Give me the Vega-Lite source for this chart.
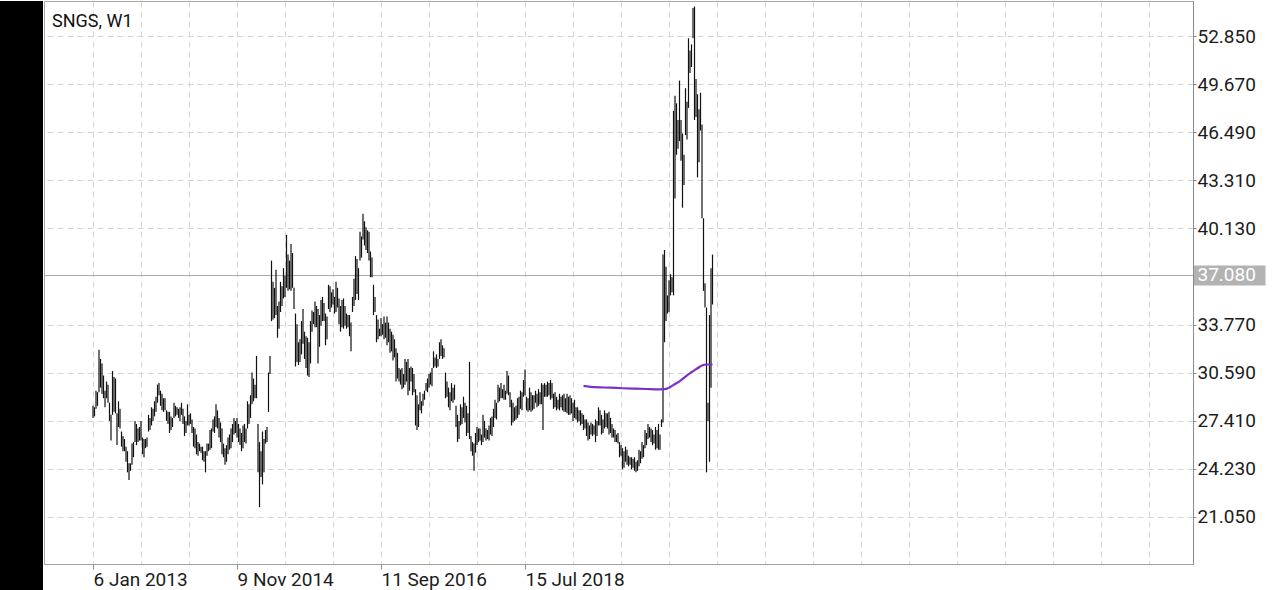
{
"$schema": "https://vega.github.io/schema/vega-lite/v6.json",
"padding": 0,
"background": "white",
"spacing": 0,
"config": {"font": "Roboto", "view": {"stroke": null}},
"datasets": {
"bars": [
{"i":0,"high":28.4,"low":27.6},{"i":1,"high":28.3,"low":27.7},{"i":2,"high":29.4,"low":28.2},{"i":3,"high":29.3,"low":28.4},{"i":4,"high":32.1,"low":29.3},{"i":5,"high":31.5,"low":29.6},{"i":6,"high":31.2,"low":29.2},{"i":7,"high":30.4,"low":28.9},{"i":8,"high":29.4,"low":28.3},{"i":9,"high":30.0,"low":28.9},
{"i":10,"high":29.8,"low":28.6},{"i":11,"high":28.6,"low":27.4},{"i":12,"high":27.8,"low":26.1},{"i":13,"high":30.7,"low":27.8},{"i":14,"high":30.3,"low":28.0},{"i":15,"high":30.2,"low":27.9},{"i":16,"high":27.9,"low":25.8},{"i":17,"high":28.7,"low":27.0},{"i":18,"high":28.2,"low":26.9},{"i":19,"high":26.7,"low":25.7},
{"i":20,"high":26.4,"low":25.4},{"i":21,"high":26.2,"low":25.4},{"i":22,"high":25.7,"low":24.7},{"i":23,"high":25.4,"low":24.0},{"i":24,"high":24.6,"low":23.5},{"i":25,"high":24.6,"low":24.1},{"i":26,"high":25.9,"low":24.5},{"i":27,"high":26.0,"low":25.0},{"i":28,"high":27.4,"low":26.0},{"i":29,"high":27.2,"low":25.8},
{"i":30,"high":26.9,"low":26.0},{"i":31,"high":27.0,"low":26.1},{"i":32,"high":27.4,"low":26.1},{"i":33,"high":26.3,"low":25.2},{"i":34,"high":26.2,"low":25.0},{"i":35,"high":26.2,"low":25.6},{"i":36,"high":26.3,"low":25.7},{"i":37,"high":27.8,"low":26.7},{"i":38,"high":27.6,"low":26.8},{"i":39,"high":28.3,"low":27.1},
{"i":40,"high":28.2,"low":27.4},{"i":41,"high":28.7,"low":27.7},{"i":42,"high":29.0,"low":28.0},{"i":43,"high":29.8,"low":28.6},{"i":44,"high":29.9,"low":29.1},{"i":45,"high":29.4,"low":28.4},{"i":46,"high":29.2,"low":28.1},{"i":47,"high":28.9,"low":28.0},{"i":48,"high":28.9,"low":28.1},{"i":49,"high":28.1,"low":27.4},
{"i":50,"high":28.0,"low":27.2},{"i":51,"high":28.0,"low":26.6},{"i":52,"high":27.7,"low":26.8},{"i":53,"high":27.6,"low":27.0},{"i":54,"high":28.6,"low":27.6},{"i":55,"high":28.4,"low":27.7},{"i":56,"high":28.3,"low":27.8},{"i":57,"high":28.2,"low":27.6},{"i":58,"high":28.3,"low":27.4},{"i":59,"high":28.6,"low":27.8},
{"i":60,"high":28.2,"low":27.2},{"i":61,"high":27.7,"low":26.4},{"i":62,"high":27.4,"low":26.6},{"i":63,"high":28.5,"low":27.1},{"i":64,"high":27.8,"low":27.1},{"i":65,"high":27.9,"low":27.2},{"i":66,"high":27.5,"low":26.6},{"i":67,"high":27.0,"low":25.7},{"i":68,"high":26.9,"low":25.6},{"i":69,"high":26.5,"low":25.2},
{"i":70,"high":26.0,"low":25.1},{"i":71,"high":25.9,"low":25.4},{"i":72,"high":25.7,"low":25.3},{"i":73,"high":25.7,"low":24.8},{"i":74,"high":25.4,"low":24.7},{"i":75,"high":25.4,"low":24.0},{"i":76,"high":25.9,"low":25.1},{"i":77,"high":25.9,"low":25.4},{"i":78,"high":26.8,"low":25.5},{"i":79,"high":26.9,"low":25.6},
{"i":80,"high":27.5,"low":26.7},{"i":81,"high":27.7,"low":26.6},{"i":82,"high":28.5,"low":27.0},{"i":83,"high":28.1,"low":26.9},{"i":84,"high":27.6,"low":26.3},{"i":85,"high":27.3,"low":26.0},{"i":86,"high":26.9,"low":25.2},{"i":87,"high":25.9,"low":25.0},{"i":88,"high":25.6,"low":24.5},{"i":89,"high":25.8,"low":24.7},
{"i":90,"high":26.3,"low":25.2},{"i":91,"high":26.5,"low":25.5},{"i":92,"high":26.9,"low":25.6},{"i":93,"high":27.2,"low":26.0},{"i":94,"high":27.6,"low":26.5},{"i":95,"high":27.4,"low":26.6},{"i":96,"high":27.6,"low":26.3},{"i":97,"high":27.2,"low":26.0},{"i":98,"high":26.9,"low":25.8},{"i":99,"high":26.6,"low":25.4},
{"i":100,"high":27.1,"low":25.6},{"i":101,"high":27.2,"low":26.0},{"i":102,"high":26.9,"low":25.9},{"i":103,"high":28.7,"low":26.9},{"i":104,"high":28.5,"low":27.2},{"i":105,"high":29.1,"low":27.6},{"i":106,"high":30.6,"low":28.5},{"i":107,"high":30.2,"low":28.7},{"i":108,"high":29.8,"low":28.9},{"i":109,"high":31.7,"low":28.9},
{"i":110,"high":27.2,"low":24.0},{"i":111,"high":26.0,"low":21.7},{"i":112,"high":25.4,"low":23.7},{"i":113,"high":26.7,"low":23.2},{"i":114,"high":26.2,"low":24.0},{"i":115,"high":26.8,"low":25.9},{"i":116,"high":27.0,"low":26.0},{"i":117,"high":30.6,"low":28.0},{"i":118,"high":31.7,"low":30.5},{"i":119,"high":38.0,"low":34.0},
{"i":120,"high":36.6,"low":34.1},{"i":121,"high":36.2,"low":34.2},{"i":122,"high":37.4,"low":34.4},{"i":123,"high":35.0,"low":32.9},{"i":124,"high":35.3,"low":33.5},{"i":125,"high":36.6,"low":34.6},{"i":126,"high":36.3,"low":35.0},{"i":127,"high":37.5,"low":35.5},{"i":128,"high":37.0,"low":35.6},{"i":129,"high":39.7,"low":36.2},
{"i":130,"high":38.4,"low":36.0},{"i":131,"high":38.0,"low":36.1},{"i":132,"high":39.1,"low":36.0},{"i":133,"high":38.5,"low":36.2},{"i":134,"high":36.2,"low":34.8},{"i":135,"high":34.5,"low":31.0},{"i":136,"high":33.8,"low":31.3},{"i":137,"high":32.6,"low":31.1},{"i":138,"high":32.8,"low":31.3},{"i":139,"high":34.0,"low":31.8},
{"i":140,"high":34.8,"low":32.5},{"i":141,"high":33.3,"low":31.5},{"i":142,"high":33.0,"low":30.9},{"i":143,"high":32.9,"low":30.4},{"i":144,"high":32.6,"low":30.3},{"i":145,"high":34.0,"low":31.2},{"i":146,"high":34.7,"low":33.3},{"i":147,"high":34.6,"low":33.8},{"i":148,"high":35.3,"low":33.6},{"i":149,"high":35.0,"low":33.6},
{"i":150,"high":34.8,"low":31.2},{"i":151,"high":34.4,"low":32.3},{"i":152,"high":35.4,"low":33.7},{"i":153,"high":35.6,"low":34.0},{"i":154,"high":35.2,"low":34.0},{"i":155,"high":34.5,"low":32.4},{"i":156,"high":34.3,"low":32.8},{"i":157,"high":36.4,"low":34.8},{"i":158,"high":36.3,"low":34.6},{"i":159,"high":35.9,"low":34.9},
{"i":160,"high":36.1,"low":35.1},{"i":161,"high":35.6,"low":34.5},{"i":162,"high":36.6,"low":34.6},{"i":163,"high":36.2,"low":34.9},{"i":164,"high":35.5,"low":33.8},{"i":165,"high":35.0,"low":33.3},{"i":166,"high":35.4,"low":33.6},{"i":167,"high":35.5,"low":33.5},{"i":168,"high":35.0,"low":33.7},{"i":169,"high":34.5,"low":33.5},
{"i":170,"high":34.4,"low":33.6},{"i":171,"high":34.4,"low":33.0},{"i":172,"high":33.9,"low":32.0},{"i":173,"high":35.6,"low":34.6},{"i":174,"high":36.8,"low":35.0},{"i":175,"high":38.3,"low":35.4},{"i":176,"high":38.1,"low":35.8},{"i":177,"high":37.5,"low":35.4},{"i":178,"high":39.9,"low":38.0},{"i":179,"high":39.6,"low":38.2},
{"i":180,"high":41.1,"low":39.4},{"i":181,"high":40.6,"low":39.0},{"i":182,"high":40.2,"low":38.7},{"i":183,"high":40.0,"low":38.5},{"i":184,"high":39.9,"low":38.0},{"i":185,"high":38.6,"low":36.9},{"i":186,"high":38.2,"low":36.9},{"i":187,"high":36.4,"low":34.4},{"i":188,"high":35.6,"low":34.6},{"i":189,"high":34.4,"low":32.6},
{"i":190,"high":34.1,"low":32.8},{"i":191,"high":33.5,"low":33.0},{"i":192,"high":34.2,"low":33.0},{"i":193,"high":33.8,"low":33.1},{"i":194,"high":34.3,"low":32.8},{"i":195,"high":33.9,"low":32.9},{"i":196,"high":34.3,"low":32.4},{"i":197,"high":33.9,"low":32.6},{"i":198,"high":33.5,"low":31.9},{"i":199,"high":33.3,"low":32.0},
{"i":200,"high":33.1,"low":31.4},{"i":201,"high":32.8,"low":31.6},{"i":202,"high":32.2,"low":30.0},{"i":203,"high":31.9,"low":30.2},{"i":204,"high":30.9,"low":30.0},{"i":205,"high":30.8,"low":29.8},{"i":206,"high":30.9,"low":29.5},{"i":207,"high":30.5,"low":29.6},{"i":208,"high":31.5,"low":29.8},{"i":209,"high":31.3,"low":30.0},
{"i":210,"high":31.5,"low":29.1},{"i":211,"high":30.9,"low":29.4},{"i":212,"high":31.0,"low":30.0},{"i":213,"high":30.9,"low":29.1},{"i":214,"high":30.5,"low":29.3},{"i":215,"high":29.5,"low":27.1},{"i":216,"high":29.1,"low":26.8},{"i":217,"high":28.5,"low":27.0},{"i":218,"high":29.3,"low":28.1},{"i":219,"high":28.7,"low":27.9},
{"i":220,"high":29.2,"low":28.4},{"i":221,"high":29.4,"low":28.8},{"i":222,"high":29.9,"low":29.4},{"i":223,"high":30.2,"low":29.3},{"i":224,"high":30.5,"low":29.6},{"i":225,"high":30.6,"low":29.8},{"i":226,"high":30.9,"low":29.7},{"i":227,"high":32.0,"low":30.9},{"i":228,"high":31.6,"low":31.0},{"i":229,"high":31.8,"low":30.9},
{"i":230,"high":31.5,"low":31.0},{"i":231,"high":32.6,"low":31.5},{"i":232,"high":32.8,"low":31.7},{"i":233,"high":32.4,"low":31.5},{"i":234,"high":32.2,"low":31.6},{"i":235,"high":30.6,"low":28.9},{"i":236,"high":30.0,"low":29.0},{"i":237,"high":29.6,"low":28.3},{"i":238,"high":29.3,"low":28.1},{"i":239,"high":29.9,"low":28.7},
{"i":240,"high":29.6,"low":28.6},{"i":241,"high":29.8,"low":28.8},{"i":242,"high":28.4,"low":27.0},{"i":243,"high":27.8,"low":26.0},{"i":244,"high":27.4,"low":26.2},{"i":245,"high":28.5,"low":27.1},{"i":246,"high":28.3,"low":27.2},{"i":247,"high":29.0,"low":27.6},{"i":248,"high":28.6,"low":27.3},{"i":249,"high":28.4,"low":26.4},
{"i":250,"high":27.9,"low":26.6},{"i":251,"high":31.3,"low":26.2},{"i":252,"high":26.4,"low":25.4},{"i":253,"high":26.0,"low":25.1},{"i":254,"high":25.9,"low":24.1},{"i":255,"high":26.6,"low":25.3},{"i":256,"high":27.0,"low":25.8},{"i":257,"high":26.9,"low":26.0},{"i":258,"high":26.9,"low":26.1},{"i":259,"high":26.5,"low":25.8},
{"i":260,"high":27.8,"low":26.0},{"i":261,"high":27.4,"low":26.3},{"i":262,"high":26.9,"low":26.1},{"i":263,"high":26.8,"low":26.2},{"i":264,"high":27.1,"low":26.1},{"i":265,"high":27.6,"low":26.5},{"i":266,"high":27.7,"low":26.4},{"i":267,"high":28.2,"low":27.0},{"i":268,"high":28.8,"low":27.6},{"i":269,"high":28.6,"low":27.5},
{"i":270,"high":29.8,"low":28.6},{"i":271,"high":29.6,"low":28.7},{"i":272,"high":29.9,"low":28.9},{"i":273,"high":29.5,"low":28.9},{"i":274,"high":29.8,"low":28.8},{"i":275,"high":29.4,"low":28.8},{"i":276,"high":30.7,"low":29.2},{"i":277,"high":30.4,"low":29.1},{"i":278,"high":29.3,"low":28.3},{"i":279,"high":28.8,"low":27.1},
{"i":280,"high":28.6,"low":27.3},{"i":281,"high":28.3,"low":27.4},{"i":282,"high":28.4,"low":27.5},{"i":283,"high":28.9,"low":27.6},{"i":284,"high":29.0,"low":27.8},{"i":285,"high":29.4,"low":28.2},{"i":286,"high":29.3,"low":28.1},{"i":287,"high":30.1,"low":29.0},{"i":288,"high":30.8,"low":29.1},{"i":289,"high":29.0,"low":28.1},
{"i":290,"high":28.9,"low":28.0},{"i":291,"high":29.6,"low":28.1},{"i":292,"high":29.3,"low":28.0},{"i":293,"high":29.1,"low":28.1},{"i":294,"high":29.1,"low":28.2},{"i":295,"high":29.4,"low":28.6},{"i":296,"high":29.2,"low":28.3},{"i":297,"high":29.5,"low":28.4},{"i":298,"high":29.3,"low":28.5},{"i":299,"high":29.9,"low":28.5},
{"i":300,"high":29.8,"low":26.8},{"i":301,"high":29.9,"low":29.0},{"i":302,"high":29.8,"low":29.0},{"i":303,"high":30.0,"low":29.0},{"i":304,"high":29.9,"low":29.1},{"i":305,"high":30.1,"low":28.8},{"i":306,"high":29.9,"low":28.9},{"i":307,"high":29.2,"low":28.2},{"i":308,"high":29.3,"low":28.3},{"i":309,"high":29.0,"low":28.1},
{"i":310,"high":28.8,"low":28.2},{"i":311,"high":29.2,"low":28.1},{"i":312,"high":29.0,"low":28.3},{"i":313,"high":29.1,"low":28.1},{"i":314,"high":29.2,"low":28.0},{"i":315,"high":28.9,"low":28.0},{"i":316,"high":29.2,"low":27.9},{"i":317,"high":29.0,"low":27.8},{"i":318,"high":29.1,"low":27.8},{"i":319,"high":28.9,"low":27.9},
{"i":320,"high":28.6,"low":27.4},{"i":321,"high":28.8,"low":27.6},{"i":322,"high":28.3,"low":27.5},{"i":323,"high":28.3,"low":27.3},{"i":324,"high":28.1,"low":27.4},{"i":325,"high":28.1,"low":27.1},{"i":326,"high":27.9,"low":27.2},{"i":327,"high":27.8,"low":26.8},{"i":328,"high":27.5,"low":26.9},{"i":329,"high":27.5,"low":26.4},
{"i":330,"high":27.3,"low":26.1},{"i":331,"high":27.1,"low":26.2},{"i":332,"high":27.3,"low":26.5},{"i":333,"high":27.2,"low":26.4},{"i":334,"high":27.1,"low":26.5},{"i":335,"high":27.5,"low":26.0},{"i":336,"high":27.4,"low":26.4},{"i":337,"high":28.3,"low":27.1},{"i":338,"high":28.1,"low":27.1},{"i":339,"high":27.8,"low":26.5},
{"i":340,"high":27.5,"low":26.6},{"i":341,"high":28.1,"low":26.9},{"i":342,"high":27.9,"low":27.0},{"i":343,"high":27.9,"low":26.9},{"i":344,"high":28.0,"low":26.5},{"i":345,"high":27.6,"low":26.6},{"i":346,"high":27.2,"low":26.3},{"i":347,"high":26.9,"low":26.3},{"i":348,"high":26.8,"low":26.0},{"i":349,"high":26.5,"low":26.0},
{"i":350,"high":26.6,"low":25.9},{"i":351,"high":26.0,"low":25.0},{"i":352,"high":25.8,"low":25.1},{"i":353,"high":25.6,"low":24.2},{"i":354,"high":25.4,"low":24.3},{"i":355,"high":25.7,"low":24.7},{"i":356,"high":25.5,"low":24.5},{"i":357,"high":25.1,"low":24.4},{"i":358,"high":25.0,"low":24.5},{"i":359,"high":25.0,"low":24.2},
{"i":360,"high":24.9,"low":24.3},{"i":361,"high":25.0,"low":24.1},{"i":362,"high":24.7,"low":24.0},{"i":363,"high":24.8,"low":24.1},{"i":364,"high":25.5,"low":24.4},{"i":365,"high":25.4,"low":24.6},{"i":366,"high":26.0,"low":24.9},{"i":367,"high":25.8,"low":25.0},{"i":368,"high":26.8,"low":25.6},{"i":369,"high":26.6,"low":25.8},
{"i":370,"high":27.2,"low":26.2},{"i":371,"high":27.0,"low":26.3},{"i":372,"high":26.9,"low":26.0},{"i":373,"high":26.8,"low":25.8},{"i":374,"high":26.5,"low":25.9},{"i":375,"high":27.0,"low":25.5},{"i":376,"high":26.8,"low":25.6},{"i":377,"high":27.2,"low":25.5},{"i":378,"high":26.5,"low":25.5},{"i":379,"high":27.5,"low":27.0},
{"i":380,"high":38.4,"low":27.3},{"i":381,"high":38.7,"low":32.6},{"i":382,"high":37.6,"low":34.0},{"i":383,"high":35.7,"low":34.5},{"i":384,"high":36.7,"low":34.6},{"i":385,"high":37.1,"low":35.7},{"i":386,"high":36.9,"low":35.9},{"i":387,"high":47.9,"low":35.7},{"i":388,"high":48.9,"low":42.1},{"i":389,"high":48.4,"low":45.0},
{"i":390,"high":47.3,"low":45.4},{"i":391,"high":49.9,"low":45.9},{"i":392,"high":47.3,"low":44.6},{"i":393,"high":46.4,"low":41.5},{"i":394,"high":45.0,"low":43.0},{"i":395,"high":49.4,"low":46.3},{"i":396,"high":48.5,"low":46.0},{"i":397,"high":52.7,"low":48.1},{"i":398,"high":51.9,"low":50.4},{"i":399,"high":52.3,"low":50.8},
{"i":400,"high":54.7,"low":52.7},{"i":401,"high":54.8,"low":47.3},{"i":402,"high":50.0,"low":47.5},{"i":403,"high":49.0,"low":43.5},{"i":404,"high":48.0,"low":44.5},{"i":405,"high":49.1,"low":46.6},{"i":406,"high":47.0,"low":40.8},{"i":407,"high":40.8,"low":36.0},{"i":408,"high":36.5,"low":34.9},{"i":409,"high":34.9,"low":24.0},
{"i":410,"high":28.6,"low":27.4},{"i":411,"high":34.4,"low":24.7},{"i":412,"high":37.5,"low":29.6},{"i":413,"high":38.4,"low":35.1}
],
"ma": [
{"i":327,"ma":29.72},{"i":335,"ma":29.63},{"i":345,"ma":29.6},{"i":353,"ma":29.56},{"i":362,"ma":29.53},{"i":369,"ma":29.51},{"i":378,"ma":29.49},{"i":381,"ma":29.5},{"i":384,"ma":29.6},{"i":387,"ma":29.78},{"i":391,"ma":30.02},{"i":395,"ma":30.33},{"i":399,"ma":30.63},{"i":403,"ma":30.88},{"i":406,"ma":31.07},{"i":409,"ma":31.13},{"i":413,"ma":31.13}
]
},
"hconcat": [
{
"width": 43, "height": 590,
"view": {"fill": "black", "stroke": null},
"data": {"values": []},
"mark": "point"
},
{
"width": 1149, "height": 563,
"view": {"stroke": "#a8a8a8"},
"title": {"text": "SNGS, W1", "anchor": "start", "frame": "group", "orient": "top", "offset": -27, "dx": 8, "dy": 17, "baseline": "alphabetic", "fontSize": 18, "fontWeight": "normal", "font": "Roboto", "color": "#111111"},
"layer": [
{
"data": {"name": "bars"},
"mark": {"type": "rule", "color": "#111111", "strokeWidth": 1.2},
"encoding": {
"x": {"field": "i", "type": "quantitative", "scale": {"domain": [-32.67, 733.33], "nice": false, "zero": false},
"axis": {"title": null, "values": [0,32,64,96,128,160,192,224,256,288,320,352,384,416,448,480,512,544,576,608,640,672,704],
"grid": true, "gridDash": [6,4], "gridColor": "#d6d6d6",
"labelExpr": "datum.value == 0 ? '6 Jan 2013' : datum.value == 96 ? '9 Nov 2014' : datum.value == 192 ? '11 Sep 2016' : datum.value == 288 ? '15 Jul 2018' : ''",
"labelAlign": "left", "labelFontSize": 19, "labelFont": "Roboto", "labelColor": "#1c1c1c", "labelPadding": 1, "labelOverlap": false, "labelFlush": false, "labelBound": false,
"tickSize": {"condition": {"test": "datum.value % 96 == 0 && datum.value <= 288", "value": 5}, "value": 0},
"tickColor": "#8a8a8a", "domainColor": "#a0a0a0"}},
"y": {"field": "high", "type": "quantitative", "scale": {"domain": [17.94, 55.165], "nice": false, "zero": false},
"axis": {"title": null, "orient": "right", "values": [21.05,24.23,27.41,30.59,33.77,37.08,40.13,43.31,46.49,49.67,52.85], "format": ".3f",
"labelFontSize": 19, "labelFont": "Roboto", "labelBaseline": "middle",
"labelColor": {"condition": {"test": "datum.value == 37.08", "value": "#ffffff"}, "value": "#1c1c1c"},
"labelPadding": {"condition": {"test": "datum.value == 37.08", "value": -68}, "value": 1},
"tickSize": {"condition": {"test": "datum.value == 37.08", "value": 72}, "value": 3},
"tickWidth": {"condition": {"test": "datum.value == 37.08", "value": 20}, "value": 1},
"tickColor": {"condition": {"test": "datum.value == 37.08", "value": "#b3b3b3"}, "value": "#8a8a8a"},
"domainColor": "#8a8a8a", "grid": true,
"gridColor": {"condition": {"test": "datum.value == 37.08", "value": "#ababab"}, "value": "#d6d6d6"},
"gridDash": {"condition": {"test": "datum.value == 37.08", "value": []}, "value": [6,4]}}},
"y2": {"field": "low"}
}
},
{
"data": {"name": "ma"},
"mark": {"type": "line", "color": "#7b30c8", "strokeWidth": 2.2, "interpolate": "monotone"},
"encoding": {
"x": {"field": "i", "type": "quantitative"},
"y": {"field": "ma", "type": "quantitative"}
}
}
]
}
]
}
